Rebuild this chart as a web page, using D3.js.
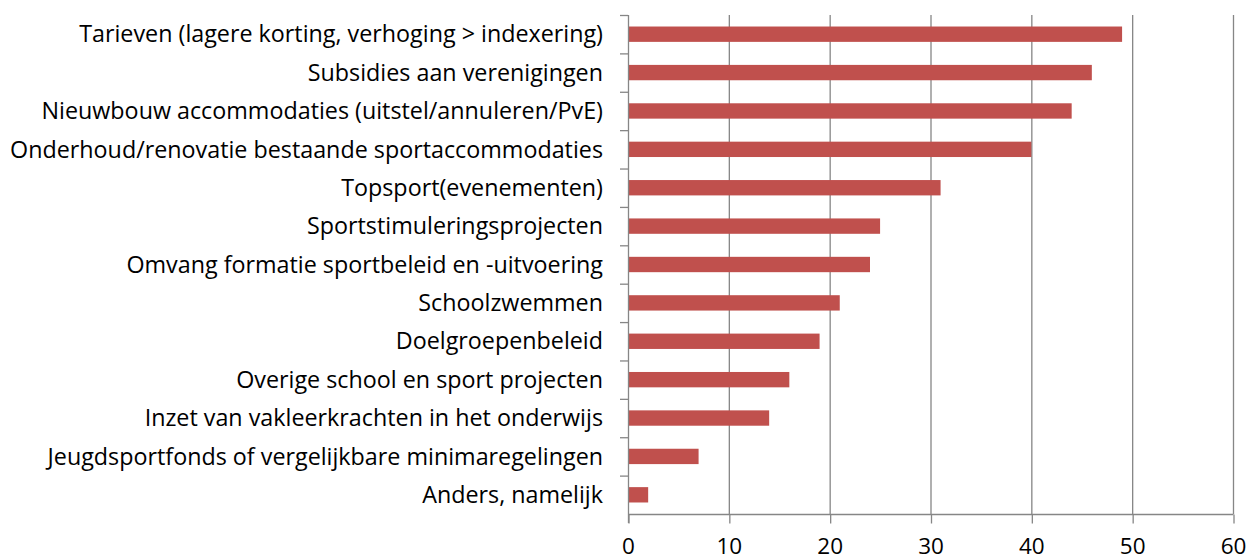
<!DOCTYPE html>
<html><head><meta charset="utf-8">
<script src="https://cdn.jsdelivr.net/npm/d3@7"></script>
<style>body{margin:0;background:#fff}svg{display:block}</style>
</head><body><svg id="c" width="1248" height="557"></svg>
<script>
const categories = [
  "Tarieven (lagere korting, verhoging > indexering)",
  "Subsidies aan verenigingen",
  "Nieuwbouw accommodaties (uitstel/annuleren/PvE)",
  "Onderhoud/renovatie bestaande sportaccommodaties",
  "Topsport(evenementen)",
  "Sportstimuleringsprojecten",
  "Omvang formatie sportbeleid en -uitvoering",
  "Schoolzwemmen",
  "Doelgroepenbeleid",
  "Overige school en sport projecten",
  "Inzet van vakleerkrachten in het onderwijs",
  "Jeugdsportfonds of vergelijkbare minimaregelingen",
  "Anders, namelijk"
];
const values = [49, 46, 44, 40, 31, 25, 24, 21, 19, 16, 14, 7, 2];
const xTicks = [0, 10, 20, 30, 40, 50, 60];

const svg = d3.select("#c");
const pLeft = 628, pRight = 1233, pTop = 15, pBottom = 514;
const x = d3.scaleLinear().domain([0, 60]).range([pLeft, pRight]);
const y = d3.scaleBand().domain(categories).range([pTop, pBottom]).paddingInner(0.6).paddingOuter(0.3);
const band = (pBottom - pTop) / categories.length;
const gray = "#868686";
const font = "'Open Sans', sans-serif";

// gridlines
svg.append("g").selectAll("line").data(xTicks.filter(d => d > 0)).join("line")
  .attr("x1", d => x(d) + 0.5).attr("x2", d => x(d) + 0.5)
  .attr("y1", pTop).attr("y2", pBottom)
  .attr("stroke", gray).attr("stroke-width", 1.3);

// bars
svg.append("g").selectAll("rect").data(values).join("rect")
  .attr("x", x(0)).attr("y", (d, i) => y(categories[i]))
  .attr("width", d => x(d) - x(0)).attr("height", y.bandwidth())
  .attr("fill", "#C0504D");

// x axis
const xa = svg.append("g").attr("transform", `translate(0,${pBottom + 0.5})`)
  .call(d3.axisBottom(x).tickValues(xTicks).tickSize(9).tickPadding(15));
xa.select(".domain").attr("stroke", gray).attr("stroke-width", 1.3).attr("d", `M${pLeft},0H${pRight + 0.5}`);
xa.selectAll(".tick line").attr("stroke", gray).attr("stroke-width", 1.3).attr("transform", "translate(0.5,0)");
xa.selectAll(".tick text").attr("font-family", font).attr("font-size", 22.5).attr("fill", "#000");

// y axis line and tick marks between categories
const ya = svg.append("g");
ya.append("line").attr("x1", pLeft + 0.5).attr("x2", pLeft + 0.5).attr("y1", pTop).attr("y2", pBottom + 9)
  .attr("stroke", gray).attr("stroke-width", 1.3);
ya.selectAll("line.t").data(d3.range(categories.length)).join("line").attr("class", "t")
  .attr("x1", pLeft - 8).attr("x2", pLeft).attr("y1", i => pTop + i * band + 0.5).attr("y2", i => pTop + i * band + 0.5)
  .attr("stroke", gray).attr("stroke-width", 1.3);
ya.selectAll("text").data(categories).join("text")
  .attr("x", pLeft - 25).attr("y", d => y(d) + y.bandwidth() / 2)
  .attr("dy", "0.35em").attr("text-anchor", "end")
  .attr("font-family", font).attr("font-size", 23.3).attr("fill", "#000")
  .text(d => d);
</script></body></html>
